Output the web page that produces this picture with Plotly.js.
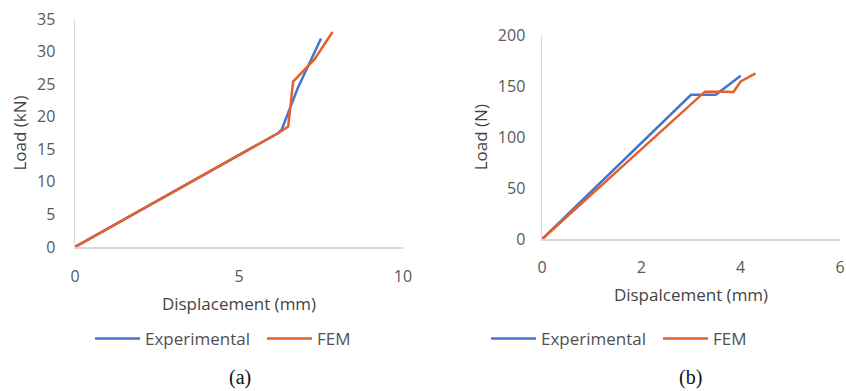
<!DOCTYPE html>
<html><head><meta charset="utf-8">
<script src="https://cdn.plot.ly/plotly-3.0.1.min.js"></script>
<style>html,body{margin:0;padding:0;background:#fff}#c{width:846px;height:391px}</style>
</head><body><div id="c"></div>
<script>
// Chart (a): Load (kN) vs Displacement (mm)
const aExpX = [0, 6.2, 6.3, 6.8, 7.5];
const aExpY = [0, 17.5, 18.0, 24.5, 32.0];
const aFemX = [0, 6.2, 6.5, 6.65, 7.3, 7.85];
const aFemY = [0, 17.5, 18.5, 25.4, 28.8, 33.0];
// Chart (b): Load (N) vs Dispalcement (mm)
const bExpX = [0, 3.0, 3.5, 4.0];
const bExpY = [0, 141.5, 141.5, 160];
const bFemX = [0, 3.2, 3.28, 3.75, 3.85, 4.0, 4.3];
const bFemY = [0, 141, 144.5, 144.5, 144, 154.5, 162.5];
const seriesNames = ['Experimental', 'FEM'];
const colors = ['#4574CC', '#E4602C'];
const aTicksX = [0, 5, 10], aTicksY = [0, 5, 10, 15, 20, 25, 30, 35];
const bTicksX = [0, 2, 4, 6], bTicksY = [0, 50, 100, 150, 200];

const W = 846, H = 391;
const px = v => v / W, py = v => (H - v) / H;
const tickFont = {family: 'Open Sans, sans-serif', size: 16, color: '#595959'};
const titleFont = {family: 'Open Sans, sans-serif', size: 17, color: '#444444'};

const traces = [
  {x: aExpX, y: aExpY, name: seriesNames[0], xaxis: 'x', yaxis: 'y', legend: 'legend'},
  {x: aFemX, y: aFemY, name: seriesNames[1], xaxis: 'x', yaxis: 'y', legend: 'legend'},
  {x: bExpX, y: bExpY, name: seriesNames[0], xaxis: 'x2', yaxis: 'y2', legend: 'legend2'},
  {x: bFemX, y: bFemY, name: seriesNames[1], xaxis: 'x2', yaxis: 'y2', legend: 'legend2'}
].map((t, i) => Object.assign(t, {type: 'scatter', mode: 'lines', line: {color: colors[i % 2], width: 2.5}}));

function ax(o) {
  return Object.assign({
    showgrid: false, zeroline: false, showline: true, linecolor: '#d9d9d9', linewidth: 1.5,
    ticks: '', tickfont: tickFont, tickmode: 'array', fixedrange: true
  }, o);
}

const legendBase = {orientation: 'h', font: {family: 'Open Sans, sans-serif', size: 17, color: '#505050'},
  xanchor: 'left', yanchor: 'middle', bgcolor: 'rgba(0,0,0,0)', entrywidth: 112, entrywidthmode: 'pixels',
  tracegroupgap: 0, itemwidth: 45};

const layout = {
  width: W, height: H, margin: {l: 0, r: 0, t: 0, b: 0}, paper_bgcolor: '#fff', plot_bgcolor: '#fff',
  showlegend: true,
  xaxis: ax({domain: [px(75), px(403)], range: [0, 10], tickvals: aTicksX, anchor: 'y', ticklabelstandoff: 14,
    title: {text: 'Displacement (mm)', font: titleFont, standoff: 12}}),
  yaxis: ax({domain: [py(247), py(19)], range: [0, 35], tickvals: aTicksY, anchor: 'x', ticklabelstandoff: 15,
    title: {text: 'Load (kN)', font: titleFont, standoff: 6}}),
  xaxis2: ax({domain: [px(542), px(840)], range: [0, 6], tickvals: bTicksX, anchor: 'y2', ticklabelstandoff: 13,
    title: {text: 'Dispalcement (mm)', font: titleFont, standoff: 12}}),
  yaxis2: ax({domain: [py(239.3), py(35)], range: [0, 200], tickvals: bTicksY, anchor: 'x2', ticklabelstandoff: 12,
    title: {text: 'Load (N)', font: titleFont, standoff: 6}}),
  legend: Object.assign({x: px(90), y: py(339)}, legendBase),
  legend2: Object.assign({x: px(486), y: py(339)}, legendBase),
  annotations: [
    {text: '(a)', x: px(240), y: py(377), xref: 'paper', yref: 'paper', xanchor: 'center', yanchor: 'middle', showarrow: false,
      font: {family: 'Liberation Serif, serif', size: 20, color: '#111'}},
    {text: '(b)', x: px(690), y: py(377), xref: 'paper', yref: 'paper', xanchor: 'center', yanchor: 'middle', showarrow: false,
      font: {family: 'Liberation Serif, serif', size: 20, color: '#111'}}
  ]
};

Plotly.newPlot('c', traces, layout, {staticPlot: true, displayModeBar: false});
</script>
</body></html>
